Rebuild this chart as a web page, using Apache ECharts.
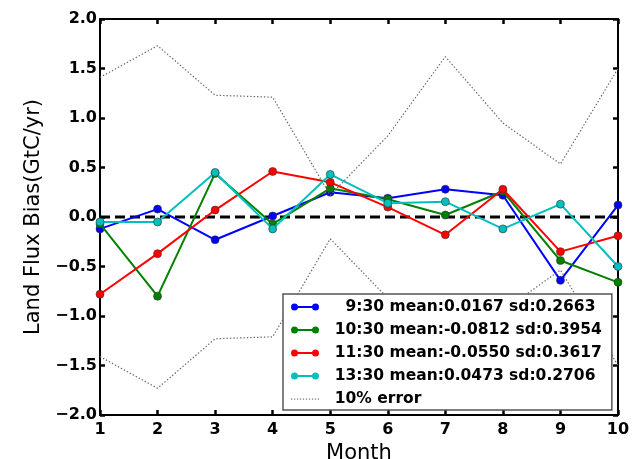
<!DOCTYPE html>
<html><head><meta charset="utf-8">
<script src="https://cdn.jsdelivr.net/npm/echarts@6/dist/echarts.min.js"></script>
<style>html,body{margin:0;padding:0;background:#fff}#c{width:638px;height:459px}</style>
</head><body><div id="c"></div>
<script>
const months = [1, 2, 3, 4, 5, 6, 7, 8, 9, 10];
const s0930 = [-0.12, 0.08, -0.23, 0.01, 0.25, 0.19, 0.28, 0.22, -0.64, 0.12];
const s1030 = [-0.07, -0.80, 0.44, -0.07, 0.29, 0.18, 0.02, 0.26, -0.44, -0.66];
const s1130 = [-0.78, -0.37, 0.07, 0.46, 0.35, 0.10, -0.18, 0.28, -0.35, -0.19];
const s1330 = [-0.05, -0.05, 0.45, -0.12, 0.43, 0.14, 0.155, -0.12, 0.13, -0.50];
const errUpper = [1.41, 1.73, 1.23, 1.21, 0.22, 0.82, 1.62, 0.95, 0.535, 1.50];
const errLower = [-1.41, -1.73, -1.23, -1.21, -0.22, -0.82, -1.62, -0.95, -0.535, -1.50];
const zeroLine = [0, 0, 0, 0, 0, 0, 0, 0, 0, 0];
const labels = ['9:30 mean:0.0167 sd:0.2663', '10:30 mean:-0.0812 sd:0.3954', '11:30 mean:-0.0550 sd:0.3617', '13:30 mean:0.0473 sd:0.2706', '10% error'];
const colors = ['#0000ff', '#008000', '#ff0000', '#00bfbf'];
const xName = 'Month';
const yName = 'Land Flux Bias(GtC/yr)';

const pts = arr => months.map((m, i) => [m, arr[i]]);
const iconPath = 'path://M0,3.5A3.5,3.5,0,1,1,7,3.5A3.5,3.5,0,1,1,0,3.5Z M3.5,2.6H24.5V4.4H3.5Z M21,3.5A3.5,3.5,0,1,1,28,3.5A3.5,3.5,0,1,1,21,3.5Z';
let dots = 'path://M0,0L0.01,0L0,0Z M0,7L0.01,7L0,7Z M28,0L27.99,0L28,0Z';
for (let x = 0; x < 28; x += 3) dots += ' M' + x + ',3H' + (x + 1.2) + 'V4.2H' + x + 'Z';
const font = 'DejaVu Sans';
const axisLine = {show: true, onZero: false, lineStyle: {color: '#000', width: 2}};
const axisTick = {show: true, inside: true, length: 5, lineStyle: {color: '#000', width: 2.5}};

const dataSeries = [s0930, s1030, s1130, s1330].map((arr, i) => ({
  name: labels[i], type: 'line', data: pts(arr), xAxisIndex: 0, yAxisIndex: 0,
  symbol: 'circle', symbolSize: 8, z: 3 + i,
  lineStyle: {color: colors[i], width: 2},
  itemStyle: {color: colors[i], borderColor: '#333', borderWidth: 0.6},
  emphasis: {disabled: true}
}));

const errStyle = {color: '#666', width: 1.2, type: [1.4, 2]};
const option = {
  animation: false,
  textStyle: {fontFamily: font},
  grid: {left: 100, right: 20, top: 19, bottom: 44, containLabel: false, outerBoundsMode: 'none'},
  xAxis: [
    {type: 'value', min: 1, max: 10, interval: 1, position: 'bottom',
     name: xName, nameLocation: 'middle', nameGap: 22,
     nameTextStyle: {fontSize: 21, color: '#000', fontFamily: font},
     axisLine, axisTick, splitLine: {show: false},
     axisLabel: {color: '#000', fontWeight: 'bold', fontSize: 16, margin: 7, fontFamily: font}},
    {type: 'value', min: 1, max: 10, interval: 1, position: 'top',
     axisLine, axisTick, splitLine: {show: false}, axisLabel: {show: false}}
  ],
  yAxis: [
    {type: 'value', min: -2, max: 2, interval: 0.5, position: 'left',
     name: yName, nameLocation: 'middle', nameGap: 52,
     nameTextStyle: {fontSize: 21, color: '#000', fontFamily: font},
     axisLine, axisTick, splitLine: {show: false},
     axisLabel: {color: '#000', fontWeight: 'bold', fontSize: 16, margin: 3, fontFamily: font,
       formatter: v => v.toFixed(1).replace('-', '\u2212')}},
    {type: 'value', min: -2, max: 2, interval: 0.5, position: 'right',
     axisLine, axisTick, splitLine: {show: false}, axisLabel: {show: false}}
  ],
  legend: {
    orient: 'vertical', left: 283, top: 294,
    padding: [5, 10, 3, 8], itemGap: 7,
    backgroundColor: '#fff', borderColor: '#555', borderWidth: 1.5, borderRadius: 0,
    itemWidth: 28, itemHeight: 7,
    itemStyle: {borderWidth: 0},
    data: [
      {name: labels[0], icon: iconPath}, {name: labels[1], icon: iconPath},
      {name: labels[2], icon: iconPath}, {name: labels[3], icon: iconPath},
      {name: labels[4], icon: dots, itemStyle: {color: '#777', borderWidth: 0}}
    ],
    formatter: n => (n === labels[0] ? '    ' : '  ') + n,
    textStyle: {fontSize: 15.5, fontWeight: 'bold', color: '#000', fontFamily: font, lineHeight: 16},
    selectedMode: false, z: 20
  },
  series: [
    {name: 'zero', type: 'line', data: pts(zeroLine), symbol: 'none', z: 2,
     lineStyle: {color: '#000', width: 3, type: [10, 5]}, emphasis: {disabled: true}},
    ...dataSeries,
    {name: labels[4], type: 'line', data: pts(errUpper), symbol: 'none', z: 8,
     lineStyle: errStyle, itemStyle: {color: '#777'}, emphasis: {disabled: true}},
    {name: labels[4], type: 'line', data: pts(errLower), symbol: 'none', z: 8,
     lineStyle: errStyle, itemStyle: {color: '#777'}, emphasis: {disabled: true}}
  ]
};
const chart = echarts.init(document.getElementById('c'), null, {renderer: 'canvas'});
chart.setOption(option);
</script></body></html>
